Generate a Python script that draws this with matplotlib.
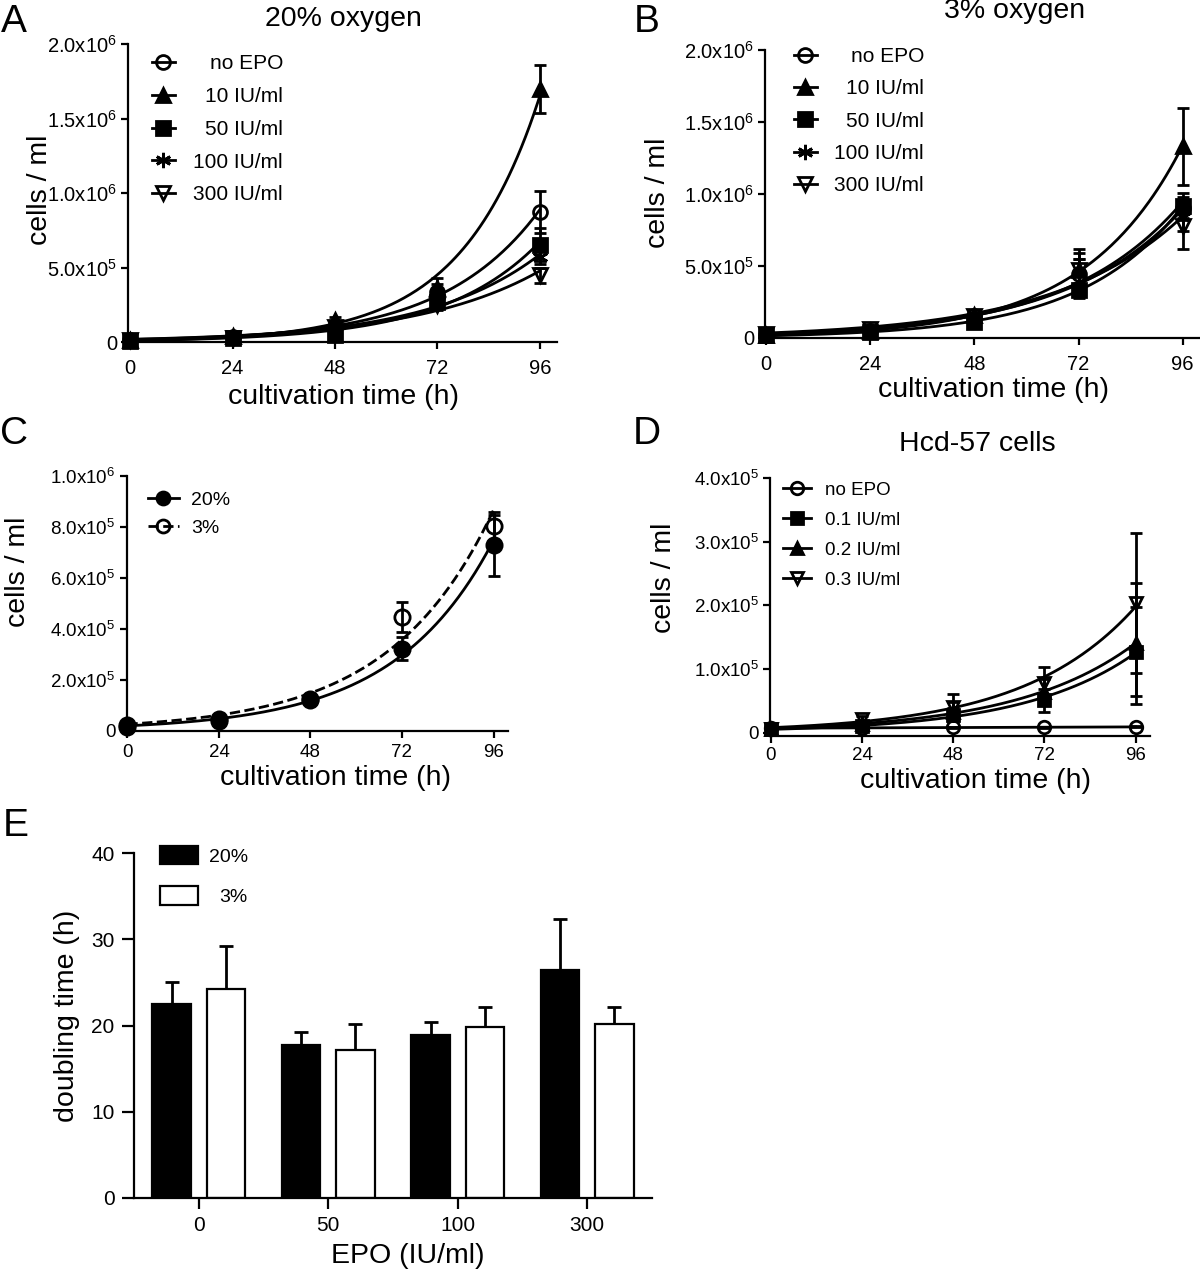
import numpy as np
import matplotlib.pyplot as plt
from matplotlib.lines import Line2D
from matplotlib.patches import Patch

plt.rcParams['font.family'] = ['Liberation Sans', 'DejaVu Sans']
plt.rcParams['mathtext.default'] = 'regular'

W, H = 1200, 1271

# time points (h)
t = np.array([0, 24, 48, 72, 96])
x_ticks = [0, 24, 48, 72, 96]

# A: 20% oxygen
a_labels = ['no EPO', '10 IU/ml', '50 IU/ml', '100 IU/ml', '300 IU/ml']
a_noepo = [0.012e6, 0.035e6, 0.10e6, 0.336e6, 0.873e6]
a_10 = [0.012e6, 0.04e6, 0.146e6, 0.36e6, 1.70e6]
a_50 = [0.010e6, 0.03e6, 0.05e6, 0.27e6, 0.654e6]
a_100 = [0.012e6, 0.035e6, 0.10e6, 0.26e6, 0.571e6]
a_300 = [0.012e6, 0.03e6, 0.10e6, 0.246e6, 0.448e6]
a_noepo_err = [0.005e6, 0.01e6, 0.02e6, 0.05e6, 0.14e6]
a_10_err = [0.005e6, 0.01e6, 0.02e6, 0.07e6, 0.16e6]
a_50_err = [0.005e6, 0.01e6, 0.02e6, 0.04e6, 0.11e6]
a_100_err = [0.005e6, 0.01e6, 0.02e6, 0.03e6, 0.05e6]
a_300_err = [0.005e6, 0.01e6, 0.02e6, 0.03e6, 0.05e6]
a_yticks = [0, 0.5e6, 1.0e6, 1.5e6, 2.0e6]
a_yticklabels = ['0', '5.0x10$^{5}$', '1.0x10$^{6}$', '1.5x10$^{6}$', '2.0x10$^{6}$']

# B: 3% oxygen
b_noepo = [0.02e6, 0.05e6, 0.15e6, 0.447e6, 0.90e6]
b_10 = [0.02e6, 0.05e6, 0.157e6, 0.47e6, 1.33e6]
b_50 = [0.02e6, 0.04e6, 0.11e6, 0.33e6, 0.92e6]
b_100 = [0.02e6, 0.05e6, 0.15e6, 0.447e6, 0.84e6]
b_300 = [0.03e6, 0.06e6, 0.15e6, 0.47e6, 0.78e6]
b_noepo_err = [0.005e6, 0.01e6, 0.02e6, 0.10e6, 0.08e6]
b_10_err = [0.005e6, 0.01e6, 0.02e6, 0.12e6, 0.27e6]
b_50_err = [0.005e6, 0.01e6, 0.02e6, 0.05e6, 0.09e6]
b_100_err = [0.005e6, 0.01e6, 0.02e6, 0.10e6, 0.10e6]
b_300_err = [0.005e6, 0.01e6, 0.02e6, 0.15e6, 0.16e6]

# C: no EPO, 20% vs 3%
c_labels = ['20%', '3%']
c_20 = [0.015e6, 0.039e6, 0.12e6, 0.321e6, 0.727e6]
c_3 = [0.02e6, 0.044e6, 0.125e6, 0.446e6, 0.802e6]
c_20_err = [0.005e6, 0.005e6, 0.01e6, 0.045e6, 0.12e6]
c_3_err = [0.005e6, 0.005e6, 0.01e6, 0.06e6, 0.056e6]
c_yticks = [0, 2e5, 4e5, 6e5, 8e5, 1e6]
c_yticklabels = ['0', '2.0x10$^{5}$', '4.0x10$^{5}$', '6.0x10$^{5}$', '8.0x10$^{5}$', '1.0x10$^{6}$']

# D: Hcd-57 cells
d_labels = ['no EPO', '0.1 IU/ml', '0.2 IU/ml', '0.3 IU/ml']
d_noepo = [0.07e5, 0.07e5, 0.08e5, 0.08e5, 0.09e5]
d_01 = [0.05e5, 0.10e5, 0.28e5, 0.51e5, 1.27e5]
d_02 = [0.06e5, 0.13e5, 0.33e5, 0.64e5, 1.40e5]
d_03 = [0.06e5, 0.21e5, 0.40e5, 0.775e5, 2.03e5]
d_noepo_err = [0.005e5, 0.005e5, 0.005e5, 0.005e5, 0.005e5]
d_01_err = [0.02e5, 0.03e5, 0.10e5, 0.18e5, 0.70e5]
d_02_err = [0.02e5, 0.03e5, 0.15e5, 0.20e5, 0.95e5]
d_03_err = [0.02e5, 0.05e5, 0.20e5, 0.26e5, 1.10e5]
d_yticks = [0, 1e5, 2e5, 3e5, 4e5]
d_yticklabels = ['0', '1.0x10$^{5}$', '2.0x10$^{5}$', '3.0x10$^{5}$', '4.0x10$^{5}$']

# E: doubling time
e_cats = ['0', '50', '100', '300']
e_20 = [22.5, 17.7, 18.9, 26.5]
e_20_err = [2.6, 1.6, 1.5, 5.9]
e_3 = [24.2, 17.2, 19.8, 20.2]
e_3_err = [5.0, 3.0, 2.4, 2.0]

fig = plt.figure(figsize=(12, 12.71), dpi=100)


def px(x, y):
    return x / W, 1 - y / H


def add_ax(left, top, right, bottom):
    return fig.add_axes([left / W, 1 - bottom / H, (right - left) / W, (bottom - top) / H])


def style(ax, fs=13, tlen=5, xpad=7):
    for s in ['top', 'right']:
        ax.spines[s].set_visible(False)
    for s in ['left', 'bottom']:
        ax.spines[s].set_linewidth(1.6)
    ax.tick_params(direction='out', length=tlen, width=1.6, labelsize=fs, pad=3)
    ax.tick_params(axis='x', pad=xpad)


def fit_curve(tt, yy):
    yy = np.asarray(yy, dtype=float)
    k, c = np.polyfit(tt, np.log(yy), 1, w=np.sqrt(yy))
    ts = np.linspace(0, 96, 200)
    return ts, np.exp(c + k * ts)


def series(ax, y, err, marker, mfc, ms, ls='-'):
    ts, yf = fit_curve(t, y)
    ax.plot(ts, yf, color='k', lw=2, ls=ls, clip_on=False, zorder=2)
    ax.errorbar(t, y, yerr=err, fmt='none', ecolor='k', capsize=4, capthick=2,
                elinewidth=2, clip_on=False, zorder=3)
    ax.plot(t, y, ls='none', marker=marker, mfc=mfc, mec='k', ms=ms, mew=2,
            clip_on=False, zorder=4)
    return Line2D([], [], color='k', lw=2, ls=ls, marker=marker, mfc=mfc, mec='k',
                  ms=ms, mew=2)


def right_align(leg):
    r = fig.canvas.get_renderer()
    texts = leg.get_texts()
    ws = [tx.get_window_extent(r).width for tx in texts]
    m = max(ws)
    for tx, w in zip(texts, ws):
        tx.set_position((m - w, 0))


star = (6, 2, 0)

# ---------- A ----------
axA = add_ax(128, 44, 557, 342)
style(axA, fs=14.5)
hA = [series(axA, a_noepo, a_noepo_err, 'o', 'none', 10),
      series(axA, a_10, a_10_err, '^', 'k', 10),
      series(axA, a_50, a_50_err, 's', 'k', 10),
      series(axA, a_100, a_100_err, star, 'k', 11),
      series(axA, a_300, a_300_err, 'v', 'none', 10)]
axA.set_xlim(-0.5, 100)
axA.set_ylim(0, 2e6)
axA.set_xticks(x_ticks)
axA.set_yticks(a_yticks)
axA.set_yticklabels(a_yticklabels)
legA = axA.legend(hA, a_labels, loc='upper left', bbox_to_anchor=(0.055, 0.965),
                  frameon=False, fontsize=15, handlelength=1.1, handletextpad=0.9,
                  labelspacing=0.66, borderpad=0, borderaxespad=0)

# ---------- B ----------
axB = add_ax(765, 50, 1200, 338)
style(axB, fs=14.5)
hB = [series(axB, b_noepo, b_noepo_err, 'o', 'none', 10),
      series(axB, b_10, b_10_err, '^', 'k', 10),
      series(axB, b_50, b_50_err, 's', 'k', 10),
      series(axB, b_100, b_100_err, star, 'k', 11),
      series(axB, b_300, b_300_err, 'v', 'none', 10)]
axB.set_xlim(-0.3, 100)
axB.set_ylim(0, 2e6)
axB.set_xticks(x_ticks)
axB.set_yticks(a_yticks)
axB.set_yticklabels(a_yticklabels)
legB = axB.legend(hB, a_labels, loc='upper left', bbox_to_anchor=(0.066, 1.01),
                  frameon=False, fontsize=15, handlelength=1.1, handletextpad=0.85,
                  labelspacing=0.64, borderpad=0, borderaxespad=0)

# ---------- C ----------
axC = add_ax(126.7, 475.8, 508, 730.5)
style(axC, fs=13.5, xpad=5)
h3 = series(axC, c_3, c_3_err, 'o', 'none', 11, ls='--')
h20 = series(axC, c_20, c_20_err, 'o', 'k', 11)
axC.set_xlim(-0.2, 99.8)
axC.set_ylim(0, 1e6)
axC.set_xticks(x_ticks)
axC.set_yticks(c_yticks)
axC.set_yticklabels(c_yticklabels)
axC.legend([h20, h3], c_labels, loc='upper left', bbox_to_anchor=(0.055, 0.94),
           frameon=False, fontsize=14, handlelength=1.6, handletextpad=0.65,
           labelspacing=0.56, borderpad=0, borderaxespad=0, markerscale=0.85)

# ---------- D ----------
axD = add_ax(770, 478, 1150, 735.7)
style(axD, fs=13.5, xpad=3)
hD = [series(axD, d_noepo, d_noepo_err, 'o', 'none', 9),
      series(axD, d_01, d_01_err, 's', 'k', 9),
      series(axD, d_02, d_02_err, '^', 'k', 9),
      series(axD, d_03, d_03_err, 'v', 'none', 9)]
axD.set_xlim(-0.2, 99.8)
axD.set_ylim(-0.05e5, 4e5)
axD.set_xticks(x_ticks)
axD.set_yticks(d_yticks)
axD.set_yticklabels(d_yticklabels)
axD.legend(hD, d_labels, loc='upper left', bbox_to_anchor=(0.035, 0.985),
           frameon=False, fontsize=13.5, handlelength=1.5, handletextpad=0.7,
           labelspacing=0.68, borderpad=0, borderaxespad=0)

# ---------- E ----------
axE = add_ax(134, 853.3, 652, 1197.7)
style(axE, fs=15, tlen=9)
xe = np.arange(len(e_cats))
bw = 0.3
axE.bar(xe - 0.21, e_20, bw, color='k', edgecolor='k', lw=1.6, zorder=2)
axE.bar(xe + 0.21, e_3, bw, color='white', edgecolor='k', lw=1.6, zorder=2)
axE.errorbar(xe - 0.21, e_20, yerr=[np.zeros(4), e_20_err], fmt='none', ecolor='k',
             elinewidth=2, capsize=5, capthick=2, zorder=1)
axE.errorbar(xe + 0.21, e_3, yerr=[np.zeros(4), e_3_err], fmt='none', ecolor='k',
             elinewidth=2, capsize=5, capthick=2, zorder=1)
axE.set_xlim(-0.5, 3.5)
axE.set_ylim(0, 40)
axE.set_xticks(xe)
axE.set_xticklabels(e_cats)
axE.set_yticks([0, 10, 20, 30, 40])
axE.tick_params(axis='x', length=8, pad=5)
axE.tick_params(axis='y', pad=5)
legE = axE.legend([Patch(facecolor='k', edgecolor='k', lw=1.6),
                   Patch(facecolor='white', edgecolor='k', lw=1.6)],
                  c_labels, loc='upper left', bbox_to_anchor=(0.05, 1.02),
                  frameon=False, fontsize=14, handlelength=1.95, handleheight=1.05,
                  handletextpad=0.55, labelspacing=1.05, borderpad=0, borderaxespad=0)

right_align(legA)
right_align(legB)
right_align(legE)

# ---------- text ----------
lab = dict(ha='center', va='center')
for letter, (x, y) in zip('ABCDE', [(14, 22), (647, 22), (14, 434), (647, 434), (16, 826)]):
    fig.text(*px(x, y), letter, fontsize=28, **lab)

fig.text(*px(343, 19), '20% oxygen', fontsize=20.5, **lab)
fig.text(*px(1015, 11), '3% oxygen', fontsize=20.5, **lab)
fig.text(*px(977, 444), 'Hcd-57 cells', fontsize=20.5, **lab)

for (x, y) in [(343, 397), (994, 390), (335, 778), (975, 781)]:
    fig.text(*px(x, y), 'cultivation time (h)', fontsize=20.5, **lab)
fig.text(*px(408, 1256), 'EPO (IU/ml)', fontsize=20.5, **lab)

for (x, y) in [(40, 190), (658, 193), (18, 572), (664, 578)]:
    fig.text(*px(x, y), 'cells / ml', fontsize=20.5, rotation=90, **lab)
fig.text(*px(67, 1016), 'doubling time (h)', fontsize=20.5, rotation=90, **lab)

fig.savefig('out.png', dpi=100)
